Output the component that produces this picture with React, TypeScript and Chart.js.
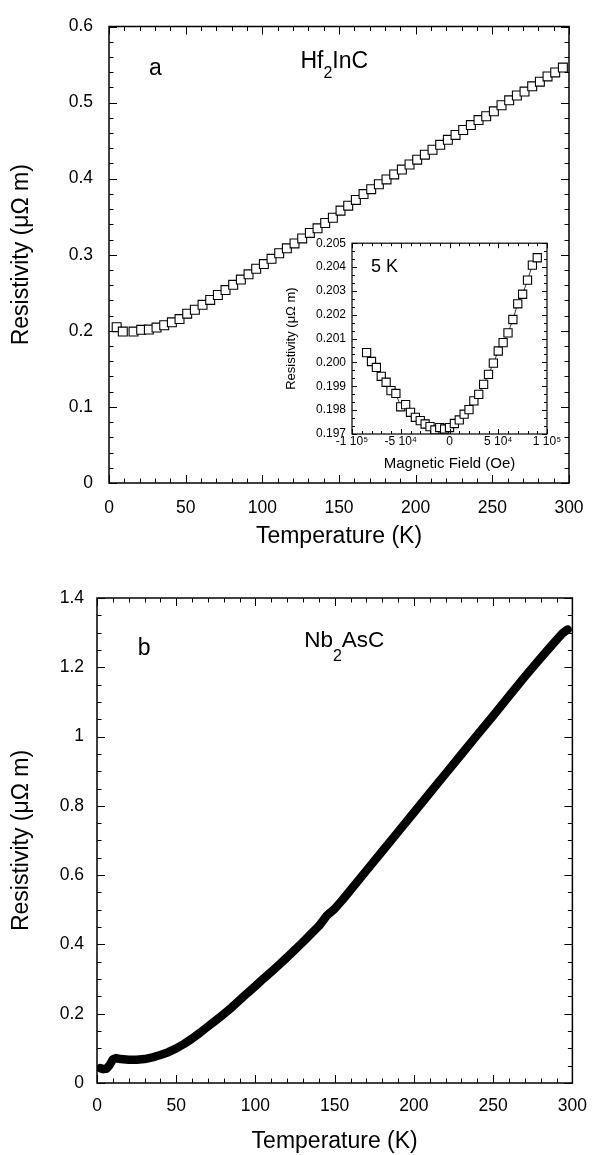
import React, { useEffect, useRef } from 'react';
import { Chart, registerables } from 'chart.js';

Chart.register(...registerables);

const FONT = "'Liberation Sans', Arial, Helvetica, sans-serif";

// ---------- Panel a : Hf2InC ----------
const hfT = [5, 9, 16, 21, 26, 31, 36, 41, 46, 51, 56, 61, 66, 71, 76, 81, 86, 91, 96, 101, 106, 111, 116, 121, 126, 131, 136, 141, 146, 151, 156, 161, 166, 171, 176, 181, 186, 191, 196, 201, 206, 211, 216, 221, 226, 231, 236, 241, 246, 251, 256, 261, 266, 271, 276, 281, 286, 291, 296];
const hfRho = [0.2048, 0.199, 0.199, 0.2013, 0.2017, 0.2043, 0.2073, 0.2112, 0.2155, 0.2225, 0.2277, 0.2342, 0.2406, 0.2471, 0.2536, 0.2605, 0.2674, 0.2743, 0.2816, 0.2877, 0.2946, 0.302, 0.3084, 0.3149, 0.3214, 0.3287, 0.3347, 0.3417, 0.3486, 0.358, 0.3645, 0.372, 0.3797, 0.3862, 0.3927, 0.399, 0.4056, 0.412, 0.4186, 0.425, 0.4315, 0.438, 0.4445, 0.451, 0.4575, 0.464, 0.4704, 0.477, 0.482, 0.4885, 0.4965, 0.503, 0.5093, 0.5145, 0.5214, 0.5275, 0.5344, 0.5396, 0.546];

// ---------- Inset : 5 K magnetoresistance ----------
const insetField = [-85000, -80000, -75000, -70000, -65000, -60000, -55000, -50000, -45000, -40000, -35000, -30000, -25000, -20000, -15000, -10000, -5000, 0, 5000, 10000, 15000, 20000, 25000, 30000, 35000, 40000, 45000, 50000, 55000, 60000, 65000, 70000, 75000, 80000, 85000, 90000];
const insetRho = [0.20041, 0.20004, 0.19979, 0.19942, 0.19917, 0.19882, 0.1987, 0.19814, 0.19823, 0.19791, 0.1977, 0.19756, 0.19742, 0.19731, 0.19717, 0.19727, 0.19721, 0.19727, 0.19744, 0.19759, 0.19783, 0.19802, 0.19839, 0.19866, 0.19908, 0.1995, 0.19997, 0.20048, 0.20083, 0.20124, 0.2018, 0.20246, 0.20286, 0.20345, 0.20408, 0.20439];
const insetXTickValues = [-100000, -50000, 0, 50000, 100000];
const insetXTickLabels = ['-1 10\u2075', '-5 10\u2074', '0', '5 10\u2074', '1 10\u2075'];

// ---------- Panel b : Nb2AsC ----------
const nbT = [2, 4, 6, 8, 10, 12, 15, 20, 25, 30, 35, 40, 45, 50, 55, 60, 65, 70, 75, 80, 85, 90, 95, 100, 105, 110, 115, 120, 125, 130, 135, 140, 145, 148, 150, 155, 160, 170, 180, 190, 200, 210, 220, 230, 240, 250, 260, 270, 280, 285, 290, 294, 297];
const nbRho = [0.043, 0.04, 0.041, 0.052, 0.068, 0.072, 0.069, 0.067, 0.067, 0.069, 0.074, 0.081, 0.089, 0.1, 0.113, 0.128, 0.145, 0.163, 0.181, 0.199, 0.218, 0.239, 0.26, 0.28, 0.301, 0.321, 0.342, 0.363, 0.385, 0.407, 0.43, 0.453, 0.483, 0.495, 0.503, 0.529, 0.557, 0.613, 0.669, 0.725, 0.781, 0.837, 0.893, 0.949, 1.005, 1.06, 1.117, 1.173, 1.227, 1.253, 1.279, 1.299, 1.309];

const TOP_H = 560;
const BOT_TOP = 560;
const BOT_H = 595;
const INSET_L = 280;
const INSET_T = 230;
const INSET_W = 300;
const INSET_H = 250;

type Part = { t: string; size: number; dy?: number };
type TextRun = { x: number; y: number; parts: Part[] };

function frameTicks(o: {
  xMinor: number; xMajor: number; yMinor: number; yMajor: number;
  major: number; minor: number; frameWidth: number; texts: TextRun[];
}) {
  return {
    id: 'frameTicks',
    afterDraw(chart: any) {
      const { ctx, chartArea: a, scales } = chart;
      const xs = scales.x;
      const ys = scales.y;
      const isMajor = (v: number, m: number) => Math.abs(v / m - Math.round(v / m)) < 1e-6;
      ctx.save();
      ctx.strokeStyle = '#000';
      ctx.lineWidth = 1;
      const nx = Math.round((xs.max - xs.min) / o.xMinor);
      for (let i = 0; i <= nx; i++) {
        const v = xs.min + i * o.xMinor;
        const len = isMajor(v, o.xMajor) ? o.major : o.minor;
        const px = Math.round(xs.getPixelForValue(v)) + 0.5;
        ctx.beginPath();
        ctx.moveTo(px, a.bottom);
        ctx.lineTo(px, a.bottom - len);
        ctx.moveTo(px, a.top);
        ctx.lineTo(px, a.top + len);
        ctx.stroke();
      }
      const ny = Math.round((ys.max - ys.min) / o.yMinor);
      for (let i = 0; i <= ny; i++) {
        const v = ys.min + i * o.yMinor;
        const len = isMajor(v, o.yMajor) ? o.major : o.minor;
        const py = Math.round(ys.getPixelForValue(v)) + 0.5;
        ctx.beginPath();
        ctx.moveTo(a.left, py);
        ctx.lineTo(a.left + len, py);
        ctx.moveTo(a.right, py);
        ctx.lineTo(a.right - len, py);
        ctx.stroke();
      }
      ctx.lineWidth = o.frameWidth;
      ctx.strokeRect(a.left, a.top, a.right - a.left, a.bottom - a.top);
      ctx.fillStyle = '#000';
      ctx.textBaseline = 'alphabetic';
      ctx.textAlign = 'left';
      for (const run of o.texts) {
        let x = run.x;
        for (const p of run.parts) {
          ctx.font = `${p.size}px ${FONT}`;
          ctx.fillText(p.t, x, run.y + (p.dy || 0));
          x += ctx.measureText(p.t).width;
        }
      }
      ctx.restore();
    },
  };
}

const trimNum = (v: number) => String(+Number(v).toFixed(3));

function axis(o: any) {
  return {
    type: 'linear',
    position: o.position,
    min: o.min,
    max: o.max,
    ticks: {
      stepSize: o.step,
      padding: o.pad,
      color: '#000',
      font: { family: FONT, size: o.fontSize },
      autoSkip: false,
      maxRotation: 0,
      minRotation: 0,
      callback: o.cb || ((v: number) => trimNum(v)),
    },
    grid: { display: false, drawTicks: false },
    border: { display: false },
    title: {
      display: true,
      text: o.title,
      color: '#000',
      font: { family: FONT, size: o.titleSize },
      padding: o.titlePad,
    },
    afterFit: o.fit,
  };
}

export default function App() {
  const topRef = useRef<HTMLCanvasElement>(null);
  const insetRef = useRef<HTMLCanvasElement>(null);
  const botRef = useRef<HTMLCanvasElement>(null);

  useEffect(() => {
    document.body.style.margin = '0';
    Chart.defaults.color = '#000';
    Chart.defaults.font.family = FONT;
    const charts: Chart[] = [];

    // Panel a
    charts.push(
      new Chart(topRef.current as HTMLCanvasElement, {
        type: 'scatter',
        data: {
          datasets: [
            {
              data: hfT.map((t, i) => ({ x: t, y: hfRho[i] })),
              showLine: false,
              pointStyle: 'rect',
              pointRadius: 6.3,
              pointBorderWidth: 1.1,
              pointBorderColor: '#000',
              pointBackgroundColor: '#fff',
            },
          ],
        },
        options: {
          animation: false,
          responsive: false,
          devicePixelRatio: 1,
          layout: { padding: { left: 0, top: 20, right: 31, bottom: 0 } },
          plugins: { legend: { display: false }, tooltip: { enabled: false } },
          scales: {
            x: axis({ position: 'bottom', min: 0, max: 300, step: 50, pad: 15, fontSize: 17.5, title: 'Temperature (K)', titleSize: 23, titlePad: { top: 0, bottom: 9.4 }, fit: (s: any) => { s.height = TOP_H - 483; } }),
            y: axis({ position: 'left', min: 0, max: 0.6, step: 0.1, pad: 16, fontSize: 17.5, title: 'Resistivity (\u03bc\u03a9 m)', titleSize: 23, titlePad: { top: 8.2, bottom: 0 }, fit: (s: any) => { s.width = 109; } }),
          },
        } as any,
        plugins: [
          frameTicks({
            xMinor: 10, xMajor: 50, yMinor: 0.02, yMajor: 0.1, major: 8, minor: 4.5, frameWidth: 1.5,
            texts: [
              { x: 149, y: 75, parts: [{ t: 'a', size: 23 }] },
              { x: 300.4, y: 68.3, parts: [{ t: 'Hf', size: 23 }, { t: '2', size: 16, dy: 10 }, { t: 'InC', size: 23 }] },
            ],
          }),
        ],
      })
    );

    // Inset
    charts.push(
      new Chart(insetRef.current as HTMLCanvasElement, {
        type: 'scatter',
        data: {
          datasets: [
            {
              data: insetField.map((b, i) => ({ x: b, y: insetRho[i] })),
              showLine: true,
              borderColor: '#000',
              borderWidth: 0.8,
              pointStyle: 'rect',
              pointRadius: 5.8,
              pointBorderWidth: 1.1,
              pointBorderColor: '#000',
              pointBackgroundColor: '#fff',
            },
          ],
        },
        options: {
          animation: false,
          responsive: false,
          devicePixelRatio: 1,
          layout: { padding: { left: 0, top: 11, right: 33, bottom: 0 } },
          plugins: { legend: { display: false }, tooltip: { enabled: false } },
          scales: {
            x: axis({
              position: 'bottom', min: -100000, max: 100000, step: 50000, pad: 0, fontSize: 12,
              cb: (v: number) => {
                const k = insetXTickValues.findIndex((t) => Math.abs(t - v) < 1);
                return k >= 0 ? insetXTickLabels[k] : '';
              },
              title: 'Magnetic Field (Oe)', titleSize: 15, titlePad: { top: 0, bottom: 7.2 },
              fit: (s: any) => { s.height = 46; },
            }),
            y: axis({
              position: 'left', min: 0.197, max: 0.205, step: 0.001, pad: 6, fontSize: 12,
              cb: (v: number) => Number(v).toFixed(3),
              title: 'Resistivity (\u03bc\u03a9 m)', titleSize: 13, titlePad: { top: 4, bottom: 0 },
              fit: (s: any) => { s.width = 72; },
            }),
          },
        } as any,
        plugins: [
          frameTicks({
            xMinor: 10000, xMajor: 50000, yMinor: 0.001 / 3, yMajor: 0.001, major: 5, minor: 3, frameWidth: 1.2,
            texts: [{ x: 91, y: 42, parts: [{ t: '5 K', size: 18 }] }],
          }),
        ],
      })
    );

    // Panel b
    charts.push(
      new Chart(botRef.current as HTMLCanvasElement, {
        type: 'scatter',
        data: {
          datasets: [
            {
              data: nbT.map((t, i) => ({ x: t, y: nbRho[i] })),
              showLine: true,
              borderColor: '#000',
              borderWidth: 8.5,
              borderCapStyle: 'round',
              borderJoinStyle: 'round',
              pointRadius: 0,
              tension: 0,
            },
            {
              data: nbT.map((t, i) => ({ x: t, y: nbRho[i] })).filter((p) => p.x >= 95),
              showLine: true,
              borderColor: 'rgba(255,255,255,0.55)',
              borderWidth: 1,
              borderDash: [1.5, 7],
              pointRadius: 0,
              tension: 0,
            },
          ],
        },
        options: {
          animation: false,
          responsive: false,
          devicePixelRatio: 1,
          layout: { padding: { left: 0, top: 38, right: 17, bottom: 0 } },
          plugins: { legend: { display: false }, tooltip: { enabled: false } },
          scales: {
            x: axis({ position: 'bottom', min: 0, max: 300, step: 50, pad: 13, fontSize: 17.5, title: 'Temperature (K)', titleSize: 23, titlePad: { top: 0, bottom: 0 }, fit: (s: any) => { s.height = 72; } }),
            y: axis({ position: 'left', min: 0, max: 1.4, step: 0.2, pad: 13, fontSize: 17.5, title: 'Resistivity (\u03bc\u03a9 m)', titleSize: 23, titlePad: { top: 8.2, bottom: 0 }, fit: (s: any) => { s.width = 97; } }),
          },
        } as any,
        plugins: [
          frameTicks({
            xMinor: 10, xMajor: 50, yMinor: 0.05, yMajor: 0.2, major: 8, minor: 4.5, frameWidth: 1.5,
            texts: [
              { x: 137.8, y: 95, parts: [{ t: 'b', size: 23 }] },
              { x: 304.2, y: 87.3, parts: [{ t: 'Nb', size: 22.5 }, { t: '2', size: 16, dy: 14 }, { t: 'AsC', size: 22.5 }] },
            ],
          }),
        ],
      })
    );

    return () => charts.forEach((c) => c.destroy());
  }, []);

  return (
    <div style={{ position: 'relative', width: 600, height: 1155, background: '#fff', overflow: 'hidden' }}>
      <canvas ref={topRef} width={600} height={TOP_H} style={{ position: 'absolute', left: 0, top: 0, width: 600, height: TOP_H }} />
      <canvas ref={insetRef} width={INSET_W} height={INSET_H} style={{ position: 'absolute', left: INSET_L, top: INSET_T, width: INSET_W, height: INSET_H }} />
      <canvas ref={botRef} width={600} height={BOT_H} style={{ position: 'absolute', left: 0, top: BOT_TOP, width: 600, height: BOT_H }} />
    </div>
  );
}
